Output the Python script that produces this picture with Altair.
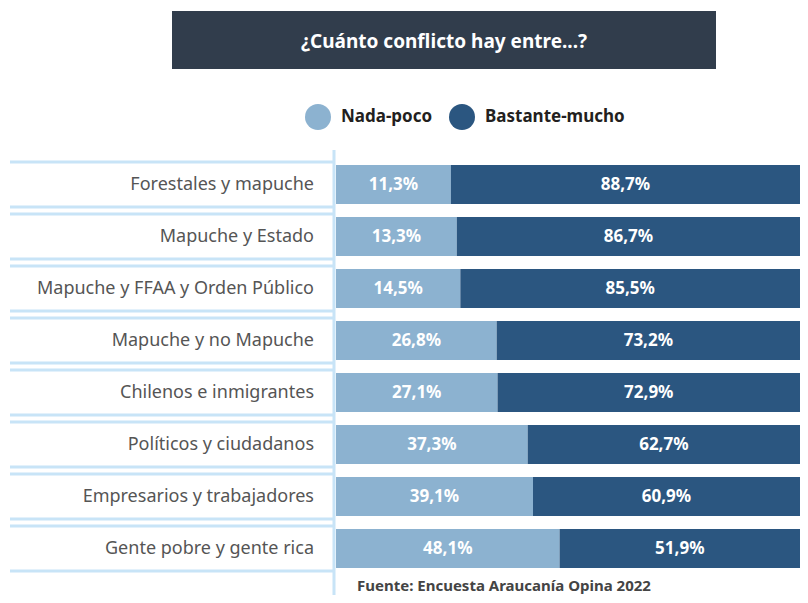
import altair as alt
import pandas as pd

# ---- data -------------------------------------------------------------
CATEGORIAS = [
    "Forestales y mapuche",
    "Mapuche y Estado",
    "Mapuche y FFAA y Orden Público",
    "Mapuche y no Mapuche",
    "Chilenos e inmigrantes",
    "Políticos y ciudadanos",
    "Empresarios y trabajadores",
    "Gente pobre y gente rica",
]
NADA_POCO = [11.3, 13.3, 14.5, 26.8, 27.1, 37.3, 39.1, 48.1]
BASTANTE_MUCHO = [88.7, 86.7, 85.5, 73.2, 72.9, 62.7, 60.9, 51.9]
SERIES = ["Nada-poco", "Bastante-mucho"]
TITULO = "¿Cuánto conflicto hay entre...?"
FUENTE = "Fuente: Encuesta Araucanía Opina 2022"

# ---- style -------------------------------------------------------------
FONT = "Noto Sans"
LIGHT = "#8cb2d0"
DARK = "#2b5680"
LINE = "#c8e4f7"
TITLE_BG = "#313d4c"
X_MIN, X_MAX = -27.6, 129.5

df = pd.DataFrame({"cat": CATEGORIAS, "nada": NADA_POCO, "bastante": BASTANTE_MUCHO})

xscale = alt.Scale(domain=[X_MIN, X_MAX], range=[326, 790])
yscale = alt.Scale(domain=CATEGORIAS, paddingInner=0.25, paddingOuter=0.125)
cscale = alt.Scale(domain=SERIES, range=[LIGHT, DARK])
legend = alt.Legend(
    orient="none", legendX=295, legendY=-54.5, direction="horizontal", title=None,
    symbolType="circle", symbolSize=676, symbolStrokeWidth=0, symbolOpacity=1,
    labelFont=FONT, labelFontSize=17, labelFontWeight="bold", labelColor="#231f20",
    labelOffset=10, columnPadding=16, padding=0, offset=0,
)

base = alt.Chart(df).transform_calculate(
    serie1=f"'{SERIES[0]}'",
    serie2=f"'{SERIES[1]}'",
    mid1=f"({X_MIN} + datum.nada) / 2",
    mid2=f"(datum.nada + {X_MAX}) / 2",
    lab1="replace(format(datum.nada, '.1f'), '.', ',') + '%'",
    lab2="replace(format(datum.bastante, '.1f'), '.', ',') + '%'",
)

Y = alt.Y("cat:N", scale=yscale, axis=None)

title_df = pd.DataFrame({"t": [TITULO]})
title_rect = alt.Chart(title_df).mark_rect(color=TITLE_BG).encode(
    x=alt.value(162), x2=alt.value(706), y=alt.value(-147.5), y2=alt.value(-89.5)
)
title_text = alt.Chart(title_df).mark_text(
    font=FONT, fontSize=19, fontWeight="bold", color="white", align="center", baseline="middle"
).encode(text="t:N", x=alt.value(434), y=alt.value(-117))

rule_top = base.mark_rule(color=LINE, strokeWidth=3, yOffset=-3).encode(
    y=alt.Y("cat:N", scale=yscale, axis=None, bandPosition=0),
    x=alt.value(0), x2=alt.value(323),
)
rule_bot = base.mark_rule(color=LINE, strokeWidth=3, yOffset=3).encode(
    y=alt.Y("cat:N", scale=yscale, axis=None, bandPosition=1),
    x=alt.value(0), x2=alt.value(323),
)
vline = alt.Chart(title_df).mark_rule(color=LINE, strokeWidth=3).encode(
    x=alt.value(324), y=alt.value(-8.5), y2=alt.value(440)
)

cat_text = base.mark_text(
    font=FONT, fontSize=18, color="#555555", align="right", baseline="middle"
).encode(y=Y, x=alt.value(304), text="cat:N")

bar1 = base.mark_bar().encode(
    y=Y,
    x=alt.X("nada:Q", scale=xscale, axis=None),
    x2=alt.X2Datum(X_MIN),
    color=alt.Color("serie1:N", scale=cscale, legend=legend),
)
bar2 = base.mark_bar().encode(
    y=Y,
    x=alt.X("nada:Q", scale=xscale, axis=None),
    x2=alt.X2Datum(X_MAX),
    color=alt.Color("serie2:N", scale=cscale, legend=legend),
)

lab1 = base.mark_text(
    font=FONT, fontSize=17, fontWeight="bold", color="white", align="center", baseline="middle"
).encode(y=Y, x=alt.X("mid1:Q", scale=xscale, axis=None), text="lab1:N")
lab2 = base.mark_text(
    font=FONT, fontSize=17, fontWeight="bold", color="white", align="center", baseline="middle"
).encode(y=Y, x=alt.X("mid2:Q", scale=xscale, axis=None), text="lab2:N")

foot_df = pd.DataFrame({"t": [FUENTE]})
footer = alt.Chart(foot_df).mark_text(
    font=FONT, fontSize=15, fontWeight="bold", color="#444444", align="left", baseline="alphabetic"
).encode(text="t:N", x=alt.value(347), y=alt.value(432))

chart = alt.layer(
    title_rect, title_text, rule_top, rule_bot, vline, cat_text,
    bar1, bar2, lab1, lab2, footer,
).properties(
    width=790, height=416,
    autosize=alt.AutoSizeParams(type="none"),
    padding={"left": 2, "top": 150.5, "right": 0, "bottom": 20.5},
).configure_view(stroke=None)

chart.save("out.html", embed_options={"renderer": "svg", "actions": False})
